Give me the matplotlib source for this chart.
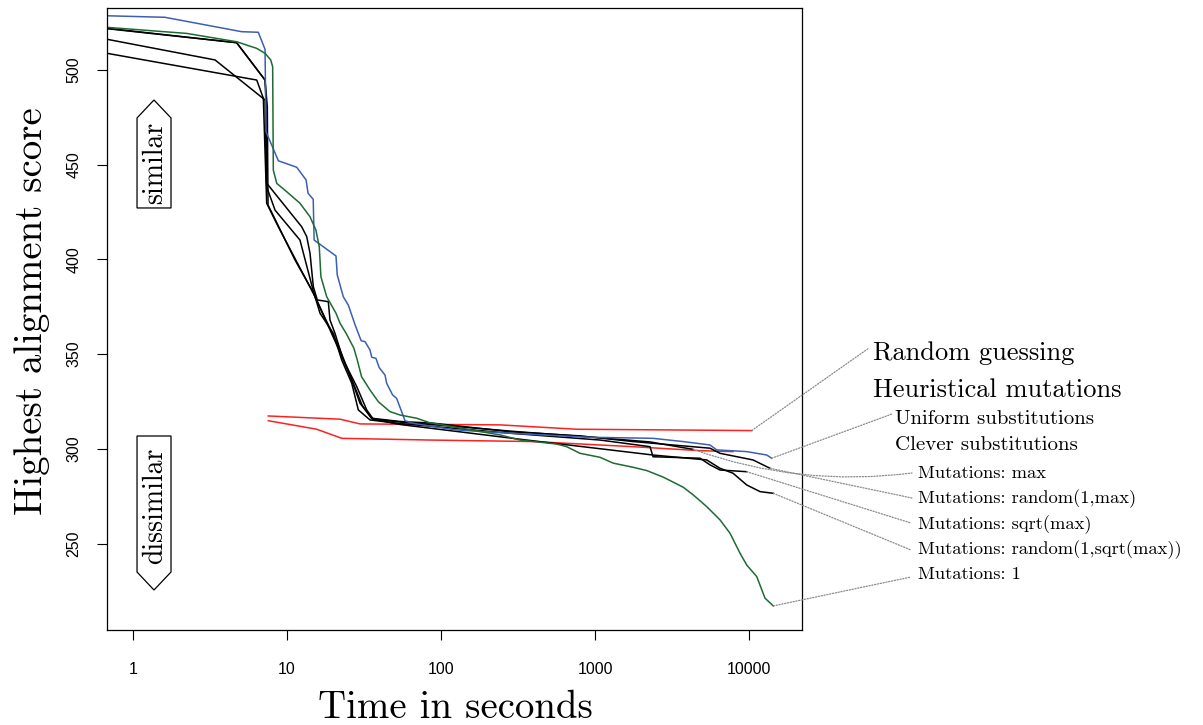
import matplotlib
matplotlib.use("Agg")
import matplotlib.pyplot as plt
from matplotlib.patches import Polygon

# ---------------- data (time in seconds, highest alignment score) ----------------
red1_t = [7.56, 22.1, 29.8, 242, 761, 10410]
red1_v = [317.4, 315.7, 313.2, 312.7, 310.4, 309.7]

red2_t = [7.56, 15.6, 22.7, 84.8, 396, 1766, 4810, 7870]
red2_v = [314.9, 310.4, 305.6, 304.7, 303.9, 301.2, 299.1, 298.6]

uniform_t = [0.678, 1.61, 5.08, 6.51, 7.20, 7.31, 8.79, 11.56, 13.3, 13.7, 14.8, 15.0,
             20.8, 21.2, 23.2, 25.0, 27.7, 30.3, 32.1, 34.6, 35.5, 37.8, 39.7, 43.3,
             44.4, 48.5, 51.5, 58.4, 65.5, 84, 126, 281, 883, 2380, 3727, 5580, 6170,
             9660, 13030, 14030]
uniform_v = [528.5, 527.7, 520.1, 519.8, 510.8, 467.3, 452.0, 448.6, 441.9, 434.9, 431.7,
             410.2, 401.8, 391.8, 380.3, 375.9, 365.4, 357.1, 356.6, 352.2, 348.4, 347.8,
             342.9, 339.0, 334.6, 328.5, 326.7, 314.9, 313.6, 312.1, 310.0, 308.3, 306.2,
             305.6, 303.9, 302.1, 299.5, 298.6, 296.8, 295.1]

mut_max_t = [0.678, 4.71, 7.20, 7.45, 7.53, 11.27, 14.75, 17.65, 21.44, 25.65, 30.69,
             35.64, 54.19, 114.4, 325.8, 928, 2276, 4329]
mut_max_v = [521.7, 514.3, 494.6, 480.5, 428.7, 399.7, 382.8, 369.1, 354.8, 339.0, 323.2,
             315.8, 314.2, 312.1, 309.0, 306.3, 303.7, 299.8]

mut_rmax_t = [0.678, 4.71, 7.20, 7.31, 7.36, 12.46, 13.43, 14.11, 14.82, 15.73, 18.54,
              19.02, 20.49, 23.21, 26.31, 29.79, 35.48, 54.19, 88.75, 280.6, 799, 1765,
              5583, 6480, 10617, 13689]
mut_rmax_v = [521.9, 514.3, 494.6, 484.1, 440.3, 417.2, 412.0, 403.2, 385.6, 378.6, 377.7,
              368.0, 361.0, 346.9, 336.4, 324.1, 316.2, 314.5, 313.6, 309.1, 306.9, 303.9,
              300.4, 297.7, 294.2, 289.8]

mut_sqrt_t = [0.678, 3.41, 7.20, 7.38, 8.36, 12.14, 14.75, 16.38, 19.98, 22.66, 26.31,
              29.04, 34.59, 54.19, 280.6, 1078, 2276, 2380, 4807, 5583, 6480, 9663]
mut_sqrt_v = [516.1, 505.2, 484.1, 438.3, 426.0, 410.2, 383.9, 371.6, 361.0, 346.9, 334.7,
              320.6, 315.3, 313.4, 308.3, 304.7, 301.2, 295.9, 295.1, 291.6, 288.9, 288.0]

mut_rsqrt_t = [0.678, 6.36, 7.02, 7.38, 8.78, 14.82, 19.02, 23.80, 28.36, 32.93, 36.35,
               54.19, 360.2, 1251, 2380, 5313, 6480, 7873, 9663, 11789, 14383]
mut_rsqrt_v = [508.7, 494.6, 485.0, 429.6, 417.2, 382.1, 362.8, 345.2, 332.9, 320.6, 315.7,
               312.9, 304.7, 299.5, 296.8, 294.2, 289.8, 287.2, 281.0, 277.5, 276.6]

mut_one_t = [0.678, 2.23, 4.71, 6.36, 7.20, 7.84, 8.07, 8.15, 8.58, 9.95, 12.14, 14.1,
             15.4, 16.2, 16.6, 18.1, 20.8, 22.1, 24.2, 27.2, 28.6, 30.5, 34.6, 39.2, 46.6,
             54.2, 69.5, 84, 147, 242, 326, 564, 655, 799, 1077, 1315, 1774, 2167, 2780,
             3743, 4350, 5310, 6480, 7530, 8740, 9660, 11220, 12700, 14380]
mut_one_v = [522.4, 519.2, 514.8, 511.3, 508.7, 505.2, 501.6, 447.1, 440.1, 435.7, 429.6,
             422.5, 415.5, 406.7, 390.9, 380.3, 371.6, 366.3, 361.0, 353.1, 346.9, 338.1,
             331.1, 324.9, 319.7, 317.9, 316.2, 313.9, 310.4, 307.4, 304.7, 302.6, 301.2,
             297.7, 295.6, 292.5, 290.3, 288.6, 285.1, 279.8, 275.7, 269.6, 262.6, 255.5,
             245.0, 238.8, 232.7, 221.3, 217.2]

x_ticks = [1, 10, 100, 1000, 10000]
x_ticklabels = ["1", "10", "100", "1000", "10000"]
y_ticks = [250, 300, 350, 400, 450, 500]

RED = "#ff2020"
BLUE = "#3c5fb4"
GREEN = "#1d6b33"
BLACK = "#000000"
SERIF = "cmr10"

W, H = 1203, 725
fig = plt.figure(figsize=(W / 100, H / 100), dpi=100)
ax = fig.add_axes([107 / W, 95 / H, 695 / W, 622 / H])

lw = 1.1
ax.plot(red1_t, red1_v, color=RED, lw=lw)
ax.plot(red2_t, red2_v, color=RED, lw=lw)
ax.plot(mut_max_t, mut_max_v, color=BLACK, lw=lw)
ax.plot(mut_rmax_t, mut_rmax_v, color=BLACK, lw=lw)
ax.plot(mut_sqrt_t, mut_sqrt_v, color=BLACK, lw=lw)
ax.plot(mut_rsqrt_t, mut_rsqrt_v, color=BLACK, lw=lw)
ax.plot(uniform_t, uniform_v, color=BLUE, lw=lw)
ax.plot(mut_one_t, mut_one_v, color=GREEN, lw=lw)

ax.set_xscale("log")
ax.set_xlim(0.678, 22080)
ax.set_ylim(204.5, 532.6)
ax.set_xticks(x_ticks)
ax.set_xticklabels(x_ticklabels)
ax.minorticks_off()
ax.set_yticks(y_ticks)
ax.set_yticklabels([str(v) for v in y_ticks], rotation=90, va="center")
ax.tick_params(direction="out", length=7.5, width=0.8, labelsize=11.5)
ax.tick_params(axis="x", pad=15.5)
ax.tick_params(axis="y", pad=11)
for lab in ax.get_xticklabels() + ax.get_yticklabels():
    lab.set_family("Liberation Sans")
for s in ax.spines.values():
    s.set_linewidth(0.9)

# axis titles
fig.text(455 / W, 1 - 718 / H, "Time in seconds", family=SERIF, fontsize=28,
         ha="center", va="baseline")
fig.text(32 / W, 1 - 311 / H, "Highest alignment score", family=SERIF, fontsize=28,
         rotation=90, ha="center", va="center")

# similar / dissimilar arrow boxes (axes fraction)
sim = Polygon([(0.0432, 0.6785), (0.0921, 0.6785), (0.0921, 0.8232), (0.0676, 0.8521),
               (0.0432, 0.8232)], closed=True, transform=ax.transAxes,
              facecolor="white", edgecolor="black", lw=0.9, zorder=5)
dis = Polygon([(0.0432, 0.3119), (0.0921, 0.3119), (0.0921, 0.0932), (0.0676, 0.0643),
               (0.0432, 0.0932)], closed=True, transform=ax.transAxes,
              facecolor="white", edgecolor="black", lw=0.9, zorder=5)
ax.add_patch(sim)
ax.add_patch(dis)
ax.text(0.0690, 0.7508, "similar", family=SERIF, fontsize=20, rotation=90,
        ha="center", va="center", transform=ax.transAxes, zorder=6)
ax.text(0.0690, 0.2000, "dissimilar", family=SERIF, fontsize=20, rotation=90,
        ha="center", va="center", transform=ax.transAxes, zorder=6)

# right side labels
def label(x, y, s, size):
    fig.text(x / W, 1 - y / H, s, family=SERIF, fontsize=size, ha="left", va="baseline")

label(873, 360, "Random guessing", 19)
label(873, 396.5, "Heuristical mutations", 19)
label(895, 424, "Uniform substitutions", 15)
label(895, 450, "Clever substitutions", 15)
label(918, 478.3, "Mutations: max", 13.3)
label(918, 503.5, "Mutations: random(1,max)", 13.3)
label(918, 529, "Mutations: sqrt(max)", 13.3)
label(918, 554.5, "Mutations: random(1,sqrt(max))", 13.3)
label(918, 579, "Mutations: 1", 13.3)

# leader lines from series ends to labels
def leader(t_end, v_end, px, py, rad=0.0):
    ax.annotate("", xy=(px, H - py), xycoords="figure pixels",
                xytext=(t_end, v_end), textcoords="data", annotation_clip=False,
                arrowprops=dict(arrowstyle="-", color="#8a8a8a", lw=0.9,
                                linestyle=(0, (1, 1.3)), shrinkA=0, shrinkB=0,
                                connectionstyle=f"arc3,rad={rad}"))

leader(red1_t[-1], red1_v[-1], 869, 348)
leader(uniform_t[-1], uniform_v[-1], 892, 414)
leader(mut_max_t[-1], mut_max_v[-1], 912, 473, rad=0.12)
leader(mut_rmax_t[-1], mut_rmax_v[-1], 912, 498)
leader(mut_sqrt_t[-1], mut_sqrt_v[-1], 911, 523)
leader(mut_rsqrt_t[-1], mut_rsqrt_v[-1], 911, 550)
leader(mut_one_t[-1], mut_one_v[-1], 911, 577)

fig.savefig("out.png", dpi=100)
